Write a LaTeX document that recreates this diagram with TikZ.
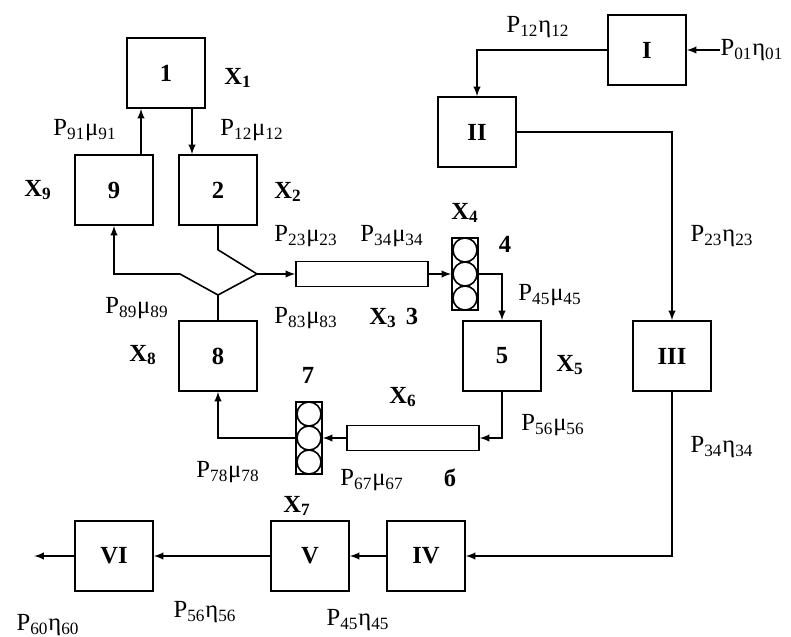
\documentclass[tikz,border=0pt]{standalone}
\usepackage{fontspec}
\setmainfont{Liberation Serif}
\newcommand{\Pm}[1]{P\textsubscript{#1}μ\textsubscript{#1}}
\newcommand{\Pe}[1]{P\textsubscript{#1}η\textsubscript{#1}}
\newcommand{\Xn}[1]{\textbf{X\textsubscript{#1}}}
\tikzset{
  blok/.style={draw,minimum width=1.56cm,minimum height=1.4cm,inner sep=0pt,font=\fontsize{14}{16}\selectfont\bfseries},
  truba/.style={draw,minimum width=2.64cm,minimum height=0.5cm,inner sep=0pt},
  stek/.style={draw,minimum width=0.52cm,minimum height=1.44cm,inner sep=0pt},
  lbl/.style={font=\fontsize{14}{16}\selectfont,inner sep=0pt},
  nom/.style={font=\fontsize{14}{16}\selectfont\bfseries,inner sep=0pt}
}
\begin{document}
\begin{tikzpicture}[x=0.02cm,y=-0.02cm,line width=0.9pt]
  \useasboundingbox (0,0) rectangle (791,636);
  % blocks of the inner loop
  \node[blok] (b1) at (166,73) {1};
  \node[blok] (b9) at (114,190) {9};
  \node[blok] (b2) at (218,190) {2};
  \node[blok] (b8) at (218,356) {8};
  \node[blok] (b5) at (502,356) {5};
  \node[truba] (t3) at (362,274) {};
  \node[truba] (t6) at (413,438) {};
  \node[stek] (s4) at (465,274) {};
  \node[stek] (s7) at (309,438) {};
  \foreach \s in {s4,s7}
    \foreach \k in {-1,0,1}
      \draw ([yshift=\k*0.48cm]\s.center) circle (0.24cm);
  % blocks of the outer chain
  \node[blok] (bI) at (647,50) {I};
  \node[blok] (bII) at (477,132) {II};
  \node[blok] (bIII) at (672,356) {III};
  \node[blok] (bIV) at (426,556) {IV};
  \node[blok] (bV) at (310,556) {V};
  \node[blok] (bVI) at (114,556) {VI};
  % junction
  \coordinate (j3) at (257,274);
  \coordinate (j8) at (218,295);
  \coordinate (jl) at (180,274);
  \draw[-latex] ([xshift=0.54cm]b9.north) -- ([xshift=0.54cm]b9.north |- b1.south);
  \draw[-latex] ([xshift=-0.52cm]b2.north |- b1.south) -- ([xshift=-0.52cm]b2.north);
  \draw[-latex] (b2.south) -- ++(0,24) -- (j3) -- (t3.west);
  \draw[-latex] (b8.north) -- (j8) -- (jl) -| (b9.south);
  \draw (j8) -- (j3);
  \draw[-latex] (t3) -- (s4);
  \draw[-latex] (s4.east) -| (b5.north);
  \draw[-latex] (b5.south) |- (t6.east);
  \draw[-latex] (t6) -- (s7);
  \draw[-latex] (s7.west) -| (b8.south);
  \draw[latex-] (bI.east) -- ++(33,0) coordinate (vh);
  \draw[-latex] (bI.west) -| (bII.north);
  \draw[-latex] (bII.east) -| (bIII.north);
  \draw[-latex] (bIII.south) |- (bIV.east);
  \draw[-latex] (bIV) -- (bV);
  \draw[-latex] (bV) -- (bVI);
  \draw[-latex] (bVI.west) -- ++(-40,0) coordinate (vyh);
  % labels
  \node[lbl] (x1) at (238,78) {\Xn{1}};
  \node[lbl] (x9) at (38,190) {\Xn{9}};
  \node[lbl] (x2) at (288,192) {\Xn{2}};
  \node[lbl] (x4) at (465,213) {\Xn{4}};
  \node[lbl] (x3) at (383,318) {\Xn{3}};
  \node[lbl] (x8) at (143,355) {\Xn{8}};
  \node[lbl] (x5) at (570,365) {\Xn{5}};
  \node[lbl] (x6) at (403,397) {\Xn{6}};
  \node[lbl] (x7) at (297,506) {\Xn{7}};
  \node[nom] (n4) at (505,244) {4};
  \node[nom] (n3) at (412,316) {3};
  \node[nom] (n7) at (308,375) {7};
  \node[nom] (n6) at (450,478) {б};
  \node[lbl] (m12) at (252,130) {\Pm{12}};
  \node[lbl] (m91) at (85,130) {\Pm{91}};
  \node[lbl] (m23) at (306,236) {\Pm{23}};
  \node[lbl] (m34) at (392,236) {\Pm{34}};
  \node[lbl] (m45) at (550,295) {\Pm{45}};
  \node[lbl] (m83) at (306,318) {\Pm{83}};
  \node[lbl] (m89) at (137,308) {\Pm{89}};
  \node[lbl] (m56) at (553,425) {\Pm{56}};
  \node[lbl] (m67) at (372,480) {\Pm{67}};
  \node[lbl] (m78) at (228,472) {\Pm{78}};
  \node[lbl] (e12) at (538,27) {\Pe{12}};
  \node[lbl,anchor=west] (e01) at (vh) {\Pe{01}};
  \node[lbl] (e23) at (722,236) {\Pe{23}};
  \node[lbl] (e34) at (722,447) {\Pe{34}};
  \node[lbl] (e60) at (48,625) {\Pe{60}};
  \node[lbl] (e56) at (205,612) {\Pe{56}};
  \node[lbl] (e45) at (358,620) {\Pe{45}};
\end{tikzpicture}
\end{document}
